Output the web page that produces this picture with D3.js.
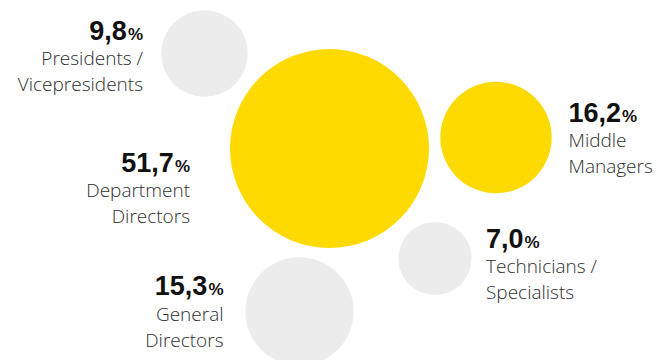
<!DOCTYPE html>
<html>
<head>
<meta charset="utf-8">
<script src="https://cdn.jsdelivr.net/npm/d3@7"></script>
<style>
  html, body { margin: 0; padding: 0; background: #fff; }
  svg { display: block; }
  .num { font-family: "Liberation Sans", "Roboto", sans-serif; font-weight: 700; fill: #111; }
  .lbl { font-family: "Open Sans", "Noto Sans", sans-serif; font-weight: 300; fill: #2e2e2e; }
</style>
</head>
<body>
<svg id="chart" width="661" height="360"></svg>
<script>
// Share of respondents by position (%)
const categories = ["Presidents / Vicepresidents", "Department Directors", "General Directors", "Middle Managers", "Technicians / Specialists"];
const labelLines = [["Presidents /", "Vicepresidents"], ["Department", "Directors"], ["General", "Directors"], ["Middle", "Managers"], ["Technicians /", "Specialists"]];
const values = [9.8, 51.7, 15.3, 16.2, 7.0];
const highlighted = [false, true, false, true, false];

// Layout of the bubbles (centres) and where each label sits relative to its bubble
const centers = [[204.5, 53.5], [329.5, 148.5], [299.5, 311.5], [496, 137.5], [435, 258.5]];
const labelSide = ["left", "left", "left", "right", "right"];
const labelAnchor = [[143, 39.5], [190, 171.5], [223.5, 295], [568.5, 121.5], [486, 247.5]];

const svg = d3.select("#chart");
const r = d3.scaleSqrt().domain([0, d3.max(values)]).range([0, 99.5]);
const fmt = v => d3.format(".1f")(v).replace(".", ",");

const data = categories.map((c, i) => ({
  c, v: values[i], hi: highlighted[i], cx: centers[i][0], cy: centers[i][1],
  side: labelSide[i], lx: labelAnchor[i][0], ly: labelAnchor[i][1], lines: labelLines[i]
}));

svg.selectAll("circle").data(data).join("circle")
  .attr("cx", d => d.cx).attr("cy", d => d.cy).attr("r", d => r(d.v))
  .attr("fill", d => d.hi ? "#FFDA00" : "#ECECEC");

const g = svg.selectAll("g.label").data(data).join("g").attr("class", "label")
  .attr("transform", d => `translate(${d.lx},${d.ly})`)
  .attr("text-anchor", d => d.side === "left" ? "end" : "start");

const num = g.append("text").attr("class", "num");
num.append("tspan").attr("font-size", 27).text(d => fmt(d.v));
num.append("tspan").attr("font-size", 17).attr("dx", 1).text("%");

g.each(function(d) {
  d3.select(this).selectAll("text.lbl").data(d.lines).join("text")
    .attr("class", "lbl").attr("font-size", 19)
    .attr("y", (t, i) => 25.5 + i * 26.3)
    .text(t => t);
});
</script>
</body>
</html>
